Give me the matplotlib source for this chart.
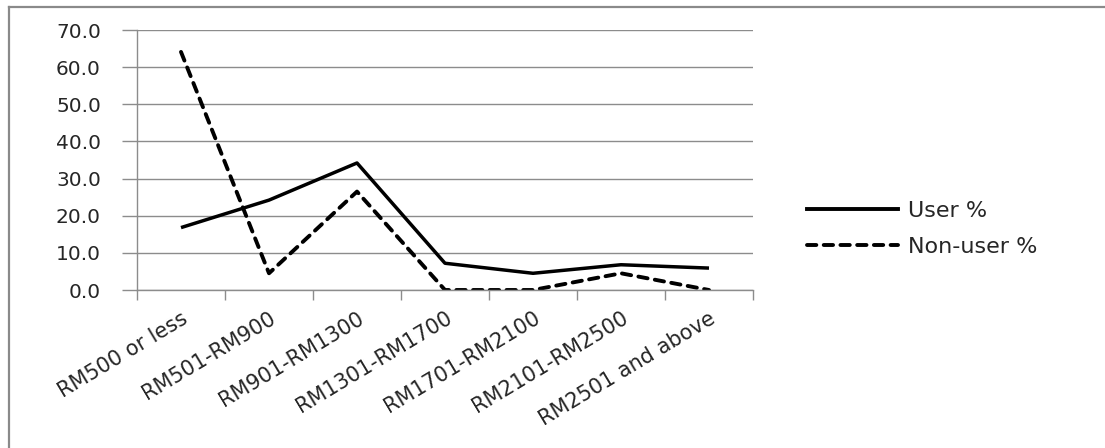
import matplotlib
matplotlib.use("Agg")
import matplotlib.pyplot as plt
from matplotlib.lines import Line2D

categories = ["RM500 or less", "RM501-RM900", "RM901-RM1300", "RM1301-RM1700",
              "RM1701-RM2100", "RM2101-RM2500", "RM2501 and above"]
user_pct = [16.8, 24.2, 34.2, 7.2, 4.5, 6.8, 5.9]
nonuser_pct = [64.1, 4.5, 26.5, 0.0, 0.0, 4.5, 0.0]
yticks = [0, 10, 20, 30, 40, 50, 60, 70]

plt.rcParams['font.family'] = ['DejaVu Sans']

W, H = 1105, 448
fig = plt.figure(figsize=(W / 100, H / 100), dpi=100)

ax = fig.add_axes([137 / W, 1 - 290 / H, (753 - 137) / W, (290 - 30) / H])
x = list(range(len(categories)))
dash = (0, (2.4, 1.9))
ax.plot(x, user_pct, color='black', lw=2.5, solid_capstyle='butt', label='User %')
ax.plot(x, nonuser_pct, color='black', lw=2.8, linestyle=dash,
        dash_capstyle='round', label='Non-user %')

ax.set_xlim(-0.5, len(categories) - 0.5)
ax.set_ylim(0, 70)
ax.set_yticks(yticks)
ax.set_yticklabels([f"{v:.1f}" for v in yticks], fontsize=14.5, color='#262626')
ax.yaxis.grid(True, color='#8c8c8c', lw=1.0)
ax.set_axisbelow(True)

ax.set_xticks([i - 0.5 for i in range(len(categories) + 1)], minor=False)
ax.set_xticklabels([])
ax.set_xticks(x, minor=True)
ax.set_xticklabels(categories, minor=True, rotation=31, ha='right', va='top',
                   rotation_mode='anchor', fontsize=15, color='#262626')
ax.tick_params(axis='x', which='major', length=7, color='#8c8c8c', width=1)
ax.tick_params(axis='x', which='minor', length=0, pad=13)
ax.tick_params(axis='y', length=11, color='#8c8c8c', width=1, pad=15)

for s in ['top', 'right']:
    ax.spines[s].set_visible(False)
for s in ['left', 'bottom']:
    ax.spines[s].set_color('#8c8c8c')
    ax.spines[s].set_linewidth(1)

handles = [Line2D([0], [0], color='black', lw=2.8),
           Line2D([0], [0], color='black', lw=2.8, linestyle=dash, dash_capstyle='round')]
fig.legend(handles, ['User %', 'Non-user %'], loc='center left',
           bbox_to_anchor=(807 / W, 1 - 229 / H), frameon=False, fontsize=16,
           handlelength=4.1, handletextpad=0.45, labelspacing=0.72, borderpad=0,
           borderaxespad=0, labelcolor='#262626')

# outer chart frame
fig.add_artist(Line2D([8.5 / W, 8.5 / W], [0, 1 - 7 / H], transform=fig.transFigure,
                      color='#8a8a8a', lw=1.6))
fig.add_artist(Line2D([8.5 / W, 1], [1 - 7 / H, 1 - 7 / H], transform=fig.transFigure,
                      color='#8a8a8a', lw=1.6))

fig.savefig("out.png", dpi=100)
